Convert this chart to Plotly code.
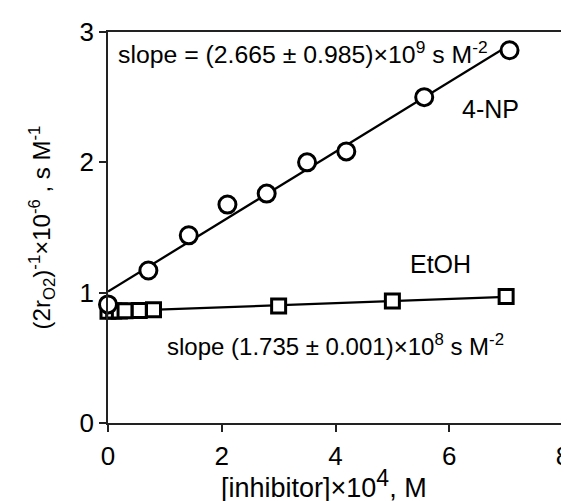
import numpy as np
import plotly.graph_objects as go

# 4-NP data
np_x = [0.0, 0.71, 1.42, 2.1, 2.79, 3.5, 4.19, 5.56, 7.06]
np_y = [0.91, 1.17, 1.44, 1.676, 1.76, 2.0, 2.084, 2.50, 2.86]

# EtOH data
et_x = [0.0, 0.1, 0.2, 0.3, 0.55, 0.8, 3.0, 5.0, 7.0]
et_y = [0.858, 0.859, 0.86, 0.861, 0.864, 0.868, 0.898, 0.936, 0.97]

x_ticks = [0, 2, 4, 6, 8]
y_ticks = [0, 1, 2, 3]

FONT = "Liberation Sans, Arial, sans-serif"

def fit_line(x, y):
    k, b = np.polyfit(x, y, 1)
    xs = np.array([0.0, max(x)])
    return xs, k * xs + b

fig = go.Figure()

lx, ly = fit_line(np_x, np_y)
fig.add_trace(go.Scatter(x=lx, y=ly, mode="lines", line=dict(color="black", width=2.3), showlegend=False))
lx2, ly2 = fit_line(et_x, et_y)
fig.add_trace(go.Scatter(x=lx2, y=ly2, mode="lines", line=dict(color="black", width=2.3), showlegend=False))

fig.add_trace(go.Scatter(x=et_x, y=et_y, mode="markers",
                         marker=dict(symbol="square", size=14, color="white",
                                     line=dict(color="black", width=3)),
                         showlegend=False, cliponaxis=False))
fig.add_trace(go.Scatter(x=np_x, y=np_y, mode="markers",
                         marker=dict(symbol="circle", size=17, color="white",
                                     line=dict(color="black", width=3)),
                         showlegend=False, cliponaxis=False))

fig.add_annotation(x=0.14, y=2.84, xanchor="left", yanchor="middle", showarrow=False,
                   text="slope = (2.665 ± 0.985)×10<sup>9</sup> s M<sup>-2</sup>",
                   font=dict(family=FONT, size=24.8, color="black"))
fig.add_annotation(x=6.72, y=2.41, xanchor="center", yanchor="middle", showarrow=False,
                   text="4-NP", font=dict(family=FONT, size=25, color="black"))
fig.add_annotation(x=5.84, y=1.22, xanchor="center", yanchor="middle", showarrow=False,
                   text="EtOH", font=dict(family=FONT, size=25, color="black"))
fig.add_annotation(x=1.0, y=0.6, xanchor="left", yanchor="middle", showarrow=False,
                   text="slope (1.735 ± 0.001)×10<sup>8</sup> s M<sup>-2</sup>",
                   font=dict(family=FONT, size=24.0, color="black"))

# x-axis title
fig.add_annotation(xref="paper", yref="paper", x=0.474, y=-0.155, xanchor="center", yanchor="middle",
                   showarrow=False, font=dict(family=FONT, size=27, color="black"),
                   text="[inhibitor]×10<sup><span style='font-size:23px'>4</span></sup>, M")

axis_common = dict(showgrid=False, zeroline=False, showline=True, linecolor="#222",
                   linewidth=1.5, mirror=True, ticks="outside", ticklen=7, tickwidth=1.5,
                   tickcolor="#222", ticklabeloverflow="allow",
                   tickfont=dict(family=FONT, size=26, color="black"))

fig.update_xaxes(range=[0, 8], tickvals=x_ticks, ticktext=[str(v) for v in x_ticks],
                 ticklabelstandoff=2, **axis_common)
fig.update_yaxes(range=[0, 3], tickvals=y_ticks, ticktext=[str(v) for v in y_ticks],
                 title=dict(text="(2r<sub>O2</sub>)<sup>-1</sup>×10<sup>-6</sup> , s M<sup>-1</sup>",
                            font=dict(family=FONT, size=24, color="black"), standoff=22),
                 **axis_common)

fig.update_layout(width=569, height=501, margin=dict(l=100, r=7, t=24, b=86),
                  plot_bgcolor="white", paper_bgcolor="white")

fig.write_html("out.html")
